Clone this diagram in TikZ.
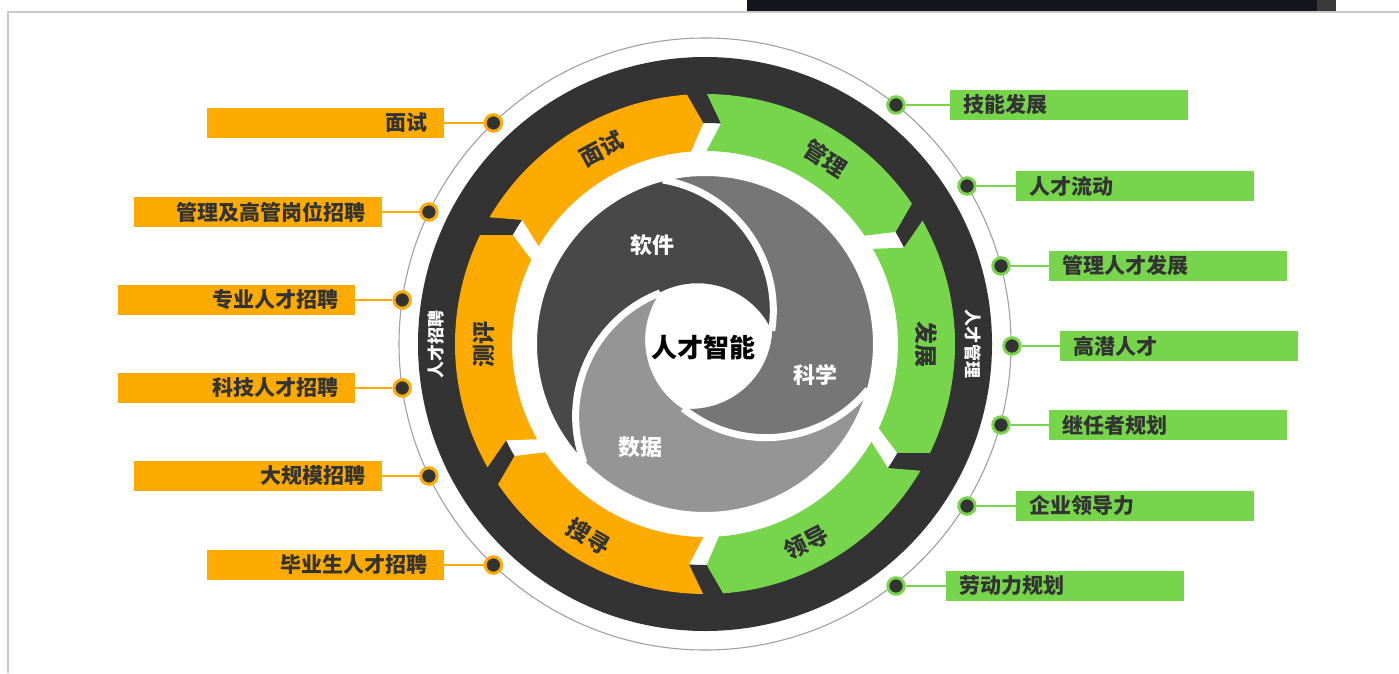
\documentclass[tikz,border=0pt]{standalone}
\usepackage{fontspec}
\setmainfont{Noto Sans CJK SC}
\definecolor{ringdark}{HTML}{333333}
\definecolor{orng}{HTML}{FDAB00}
\definecolor{grn}{HTML}{77D54B}
\definecolor{bladeA}{HTML}{484848}
\definecolor{bladeB}{HTML}{959595}
\definecolor{bladeC}{HTML}{767676}
\definecolor{txtdark}{HTML}{333333}
\definecolor{thinline}{HTML}{A0A0A0}
\definecolor{framegray}{HTML}{C8C8C8}
\definecolor{topbar}{HTML}{14141C}
\definecolor{topbarb}{HTML}{3A3A3A}
\tikzset{
  lbox/.style={fill=orng, minimum height=30pt, inner xsep=16pt, inner ysep=0pt, text width=205pt, align=right, text=txtdark, anchor=east, font=\bfseries\fontsize{21}{24}\selectfont},
  wlbox/.style={lbox, text width=216pt},
  rbox/.style={fill=grn, minimum height=30pt, inner xsep=13pt, inner ysep=0pt, text width=212pt, align=left, text=txtdark, anchor=west, font=\bfseries\fontsize{21}{24}\selectfont},
  dotn/.style={circle, fill=ringdark, draw=#1, line width=3pt, minimum size=16.5pt, inner sep=0pt},
  conn/.style={draw=#1, line width=2pt},
  arrlabel/.style={text=txtdark, font=\bfseries\fontsize{23}{26}\selectfont},
  ringlabel/.style={text=white, font=\bfseries\fontsize{17}{20}\selectfont},
  bladelabel/.style={text=white, font=\bfseries\fontsize{22}{25}\selectfont},
  gapline/.style={draw=white, line width=7pt},
}
\newcommand\ringarrow[3]{%
  \fill[#3] ({#1-0.45}:250) arc[start angle={#1-0.45}, end angle={#2+4.15}, radius=250]
    -- ({#2+0.45}:221) -- ({#2+4.15}:193)
    arc[start angle={#2+4.15}, end angle={#1-0.45}, radius=193]
    -- ({#1-4.15}:221) -- cycle;}
\newcommand\bladepath{(66.7,13.2) arc[start angle=-8.85, end angle=80.5, radius=132.3]
    arc[start angle=104.4, end angle=224.4, radius=169]
    arc[start angle=200.5, end angle=111.15, radius=132.3]
    arc[start angle=117, end angle=25.3, radius=82] -- cycle}
\begin{document}
\begin{tikzpicture}[x=1pt,y=1pt]
\useasboundingbox (0,0) rectangle (1399,673);
% frame of the screenshot
\fill[topbar] (747,661) rectangle (1317,673);
\fill[topbarb] (1317,661) rectangle (1336,673);
\draw[framegray, line width=1.5pt] (8,0) -- (8,661) -- (1399,661);

\coordinate (C) at (705,329);
% thin outer circle
\draw[thinline, line width=1.1pt] (C) circle (306);

% left dots and boxes
\node[dotn=orng] (dl1) at (493.4,550) {};
\node[dotn=orng] (dl2) at (428.9,461) {};
\node[dotn=orng] (dl3) at (402.2,373) {};
\node[dotn=orng] (dl4) at (402.2,285) {};
\node[dotn=orng] (dl5) at (428.9,197) {};
\node[dotn=orng] (dl6) at (493.4,108) {};
\node[lbox] (bl1) at (444,550) {面试};
\node[wlbox] (bl2) at (382,461) {管理及高管岗位招聘};
\node[lbox] (bl3) at (355,373) {专业人才招聘};
\node[lbox] (bl4) at (355,285) {科技人才招聘};
\node[wlbox] (bl5) at (382,197) {大规模招聘};
\node[lbox] (bl6) at (444,108) {毕业生人才招聘};
\foreach \i in {1,...,6} {\draw[conn=orng] (dl\i) -- (bl\i);}

% right dots and boxes
\node[dotn=grn] (dr1) at (896,568) {};
\node[dotn=grn] (dr2) at (967,487) {};
\node[dotn=grn] (dr3) at (1001,407) {};
\node[dotn=grn] (dr4) at (1012,327) {};
\node[dotn=grn] (dr5) at (1001,248) {};
\node[dotn=grn] (dr6) at (967,167) {};
\node[dotn=grn] (dr7) at (896,87) {};
\node[rbox] (br1) at (950,568) {技能发展};
\node[rbox] (br2) at (1016,487) {人才流动};
\node[rbox] (br3) at (1049,407) {管理人才发展};
\node[rbox] (br4) at (1060,327) {高潜人才};
\node[rbox] (br5) at (1049,248) {继任者规划};
\node[rbox] (br6) at (1016,167) {企业领导力};
\node[rbox] (br7) at (946,87) {劳动力规划};
\foreach \i in {1,...,7} {\draw[conn=grn] (dr\i) -- (br\i);}

\begin{scope}[shift={(C)}]
  % dark ring
  \fill[ringdark, even odd rule] (0,0) circle (287) (0,0) circle (221);
  % arrows
  \ringarrow{150}{90}{orng}
  \ringarrow{90}{30}{grn}
  \ringarrow{30}{-30}{grn}
  \ringarrow{-30}{-90}{grn}
  \ringarrow{-90}{-150}{orng}
  \ringarrow{-150}{-210}{orng}
  % arrow labels
  \node[arrlabel, rotate=28] (a1) at (118:221) {面试};
  \node[arrlabel, rotate=-33] (a2) at (57:221) {管理};
  \node[arrlabel, rotate=-90] (a3) at (0:221) {发展};
  \node[arrlabel, rotate=27] (a4) at (-63:223) {领导};
  \node[arrlabel, rotate=-30] (a5) at (-121:225) {搜寻};
  \node[arrlabel, rotate=90] (a6) at (180:221) {测评};
  % ring labels
  \node[ringlabel, rotate=90] (rl1) at (180:269) {人才招聘};
  \node[ringlabel, rotate=-90] (rl2) at (0:268) {人才管理};
  % swirl blades
  \fill[bladeA] \bladepath;
  \begin{scope}[rotate=120]\fill[bladeB] \bladepath;\end{scope}
  \begin{scope}[rotate=240]\fill[bladeC] \bladepath;\end{scope}
  \foreach \r in {0,120,240} {
    \draw[gapline, rotate=\r] (66.7,13.2) arc[start angle=-8.85, end angle=80.5, radius=132.3];
  }
  \draw[white, line width=2pt] (0,0) circle (169);
  \node[bladelabel] (s1) at (-53,99) {软件};
  \node[bladelabel] (s2) at (110,-31) {科学};
  \node[bladelabel] (s3) at (-65,-103) {数据};
  \node[text=black, font=\bfseries\fontsize{26}{30}\selectfont] (ctr) at (-2,-4) {人才智能};
\end{scope}
\end{tikzpicture}
\end{document}
